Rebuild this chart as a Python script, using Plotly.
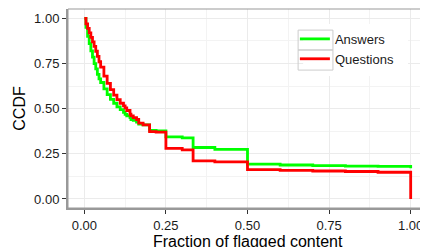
import plotly.graph_objects as go

# Step CCDF data (x = fraction of flagged content, y = CCDF value after x)
answers_x = [0, 0.005, 0.01, 0.015, 0.02, 0.025, 0.03, 0.035, 0.04, 0.045, 0.05, 0.06, 0.07, 0.08, 0.09,
             0.1, 0.11, 0.12, 0.125, 0.13, 0.14, 0.1429, 0.15, 0.16, 0.1667, 0.18,
             0.2, 0.22, 0.25, 0.3, 0.3333, 0.4, 0.5, 0.6, 0.7, 0.8, 0.9, 1.0]
answers_y = [1.0, 0.95, 0.90, 0.86, 0.82, 0.785, 0.75, 0.72, 0.69, 0.665, 0.645, 0.61, 0.578, 0.552, 0.53,
             0.51, 0.495, 0.48, 0.468, 0.46, 0.45, 0.44, 0.435, 0.425, 0.415, 0.41,
             0.38, 0.377, 0.344, 0.338, 0.285, 0.275, 0.193, 0.188, 0.185, 0.182, 0.18, 0.17]

questions_x = [0, 0.005, 0.01, 0.015, 0.02, 0.025, 0.03, 0.035, 0.04, 0.045, 0.05, 0.06, 0.07, 0.08, 0.09,
               0.1, 0.11, 0.12, 0.125, 0.13, 0.14, 0.1429, 0.15, 0.16, 0.1667, 0.18,
               0.2, 0.22, 0.25, 0.3, 0.3333, 0.4, 0.5, 0.6, 0.7, 0.8, 0.9, 1.0]
questions_y = [1.0, 0.97, 0.945, 0.92, 0.895, 0.87, 0.845, 0.818, 0.79, 0.76, 0.73, 0.68, 0.64, 0.605, 0.575,
               0.55, 0.53, 0.515, 0.505, 0.49, 0.47, 0.46, 0.45, 0.44, 0.42, 0.41,
               0.373, 0.37, 0.28, 0.272, 0.211, 0.205, 0.162, 0.158, 0.155, 0.152, 0.148, 0.0]

tick_vals = [0, 0.25, 0.5, 0.75, 1.0]
tick_text = ["0.00", "0.25", "0.50", "0.75", "1.00"]

FONT = "Liberation Sans, Arial, Helvetica, sans-serif"

fig = go.Figure()
fig.add_trace(go.Scatter(x=answers_x, y=answers_y, mode="lines", name="Answers",
                         line=dict(color="#00ff00", width=2.8, shape="hv")))
fig.add_trace(go.Scatter(x=questions_x, y=questions_y, mode="lines", name="Questions",
                         line=dict(color="#ff0000", width=2.8, shape="hv")))

axis_common = dict(
    tickvals=tick_vals, ticktext=tick_text, automargin=False,
    ticks="outside", ticklen=4, tickwidth=1, tickcolor="#333333",
    tickfont=dict(family=FONT, size=13, color="#1a1a1a"),
    showgrid=True, gridcolor="#ebebeb", gridwidth=1,
    minor=dict(dtick=0.125, showgrid=True, gridcolor="#f3f3f3", gridwidth=0.6, ticks=""),
    zeroline=False, showline=True, linecolor="#999999", linewidth=2,
)

# legend background and key frames (ggplot style), paper coordinates
legend_shapes = [
    dict(type="rect", xref="paper", yref="paper", x0=0.655, x1=0.947, y0=0.663, y1=0.925,
         fillcolor="white", line=dict(width=0), layer="above"),
    dict(type="rect", xref="paper", yref="paper", x0=0.641, x1=0.738, y0=0.794, y1=0.894,
         line=dict(color="#cccccc", width=1), layer="above"),
    dict(type="rect", xref="paper", yref="paper", x0=0.641, x1=0.738, y0=0.693, y1=0.794,
         line=dict(color="#cccccc", width=1), layer="above"),
]

# page body has an 8px default margin, so the figure is sized to fit the 428x247 window
fig.update_layout(
    width=420, height=239,
    margin=dict(l=60, r=1, t=1, b=39),
    paper_bgcolor="white", plot_bgcolor="white",
    font=dict(family=FONT, color="#000000"),
    xaxis=dict(range=[-0.05, 1.05], **axis_common),
    yaxis=dict(range=[-0.05, 1.052],
               title=dict(text="CCDF", font=dict(family=FONT, size=16), standoff=4),
               **axis_common),
    legend=dict(x=0.632, y=0.925, xanchor="left", yanchor="top",
                bgcolor="rgba(0,0,0,0)", borderwidth=0,
                font=dict(family=FONT, size=13, color="#1a1a1a"),
                itemwidth=30, tracegroupgap=0),
    shapes=[dict(type="rect", xref="paper", yref="paper", x0=0, y0=0, x1=1, y1=1,
                 line=dict(color="#999999", width=1), layer="above")] + legend_shapes,
    annotations=[dict(text="Fraction of flagged content", xref="paper", yref="paper",
                      x=0.5, y=0, xanchor="center", yanchor="top", yshift=-23,
                      showarrow=False, font=dict(family=FONT, size=16, color="#000000"))],
)

fig.write_html("out.html")
